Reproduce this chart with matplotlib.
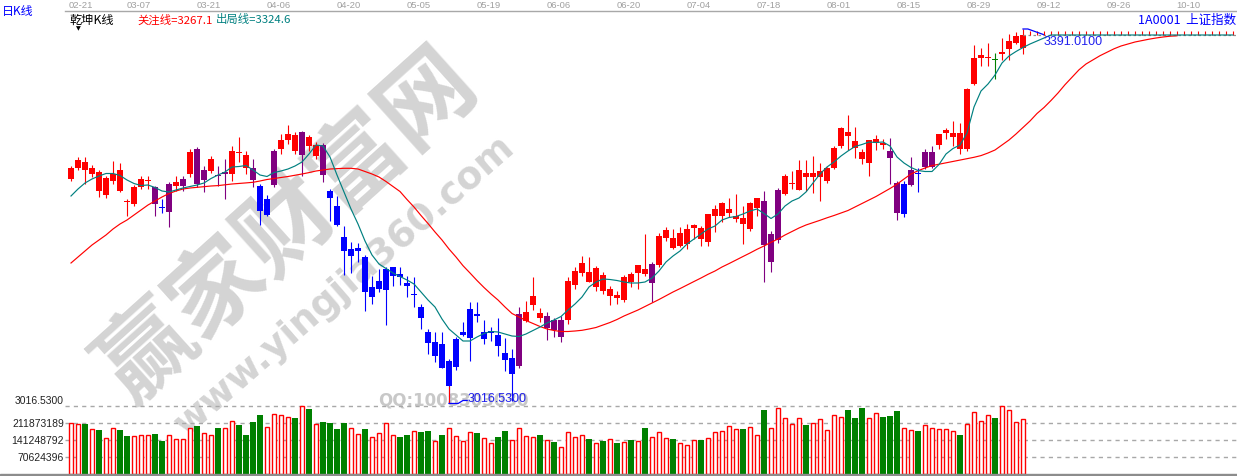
import logging
import matplotlib
matplotlib.use("Agg")
import matplotlib.pyplot as plt
import matplotlib.transforms as mtransforms
from matplotlib.lines import Line2D
from matplotlib.patches import Rectangle
import numpy as np

logging.getLogger("matplotlib.font_manager").setLevel(logging.ERROR)

# ---------------- data ----------------
date_labels = ["02-21", "03-07", "03-21", "04-06", "04-20", "05-05", "05-19", "06-06", "06-20",
               "07-04", "07-18", "08-01", "08-15", "08-29", "09-12", "09-26", "10-10"]

opens = [3241, 3252, 3258, 3246, 3248, 3225, 3239, 3250, 3219, 3216,
         3233, 3239, 3233, 3213, 3208, 3234, 3234, 3246, 3271, 3240,
         3249, 3245, 3246, 3246, 3268, 3265, 3252, 3234, 3205, 3235,
         3271, 3280, 3285, 3265, 3283, 3264, 3275, 3229, 3214, 3183,
         3164, 3169, 3163, 3123, 3131, 3130, 3144, 3146, 3137, 3125,
         3113, 3088, 3064, 3076, 3034, 3053, 3085, 3082, 3106, 3081,
         3087, 3085, 3067, 3046, 3054, 3099, 3115, 3107, 3092, 3100,
         3083, 3100, 3135, 3147, 3148, 3133, 3145, 3124, 3125, 3120,
         3146, 3147, 3151, 3137, 3155, 3182, 3182, 3174, 3176, 3192,
         3192, 3178, 3204, 3204, 3207, 3201, 3202, 3191, 3212, 3219,
         3158, 3180, 3226, 3236, 3230, 3247, 3243, 3243, 3239, 3252,
         3274, 3288, 3279, 3268, 3257, 3277, 3277, 3269, 3237, 3206,
         3235, 3247, 3253, 3253, 3275, 3287, 3283, 3287, 3271, 3336,
         3362, 3362, 3361, 3366, 3371, 3377, 3372]

closes = [3252, 3260, 3250, 3252, 3229, 3242, 3246, 3229, 3218, 3233,
          3241, 3240, 3216, 3212, 3236, 3238, 3241, 3268, 3236, 3250,
          3261, 3244, 3248, 3269, 3267, 3252, 3240, 3209, 3221, 3269,
          3280, 3286, 3269, 3288, 3274, 3275, 3245, 3222, 3195, 3169,
          3171, 3172, 3128, 3133, 3139, 3151, 3153, 3143, 3134, 3126,
          3102, 3077, 3078, 3052, 3059, 3081, 3088, 3111, 3104, 3088,
          3089, 3074, 3060, 3062, 3106, 3108, 3124, 3102, 3104, 3090,
          3100, 3139, 3149, 3157, 3138, 3152, 3129, 3131, 3122, 3143,
          3138, 3155, 3146, 3156, 3184, 3190, 3172, 3187, 3191, 3195,
          3181, 3206, 3211, 3217, 3211, 3204, 3196, 3217, 3222, 3175,
          3186, 3230, 3244, 3237, 3250, 3243, 3247, 3249, 3252, 3272,
          3292, 3284, 3272, 3261, 3280, 3281, 3275, 3262, 3207, 3236,
          3250, 3246, 3268, 3268, 3286, 3290, 3287, 3271, 3331, 3362,
          3365, 3363, 3360, 3368, 3379, 3384, 3385]

highs = [3254, 3263, 3263, 3255, 3250, 3244, 3259, 3257, 3221, 3235,
         3244, 3244, 3234, 3221, 3238, 3244, 3244, 3271, 3273, 3254,
         3264, 3254, 3261, 3274, 3283, 3269, 3261, 3236, 3225, 3271,
         3286, 3295, 3288, 3289, 3285, 3278, 3277, 3231, 3224, 3194,
         3178, 3177, 3165, 3144, 3151, 3153, 3153, 3153, 3144, 3143,
         3116, 3091, 3088, 3088, 3061, 3083, 3098, 3118, 3118, 3100,
         3093, 3102, 3082, 3071, 3113, 3119, 3143, 3112, 3108, 3102,
         3104, 3143, 3153, 3164, 3163, 3154, 3148, 3134, 3129, 3145,
         3148, 3155, 3186, 3158, 3187, 3193, 3191, 3193, 3196, 3196,
         3194, 3206, 3215, 3218, 3222, 3226, 3214, 3218, 3222, 3229,
         3189, 3232, 3246, 3249, 3260, 3260, 3264, 3257, 3253, 3274,
         3293, 3305, 3293, 3271, 3280, 3285, 3281, 3282, 3239, 3239,
         3263, 3252, 3271, 3274, 3286, 3292, 3299, 3297, 3332, 3375,
         3372, 3377, 3367, 3382, 3386, 3388, 3391.01]

lows = [3239, 3250, 3236, 3243, 3223, 3222, 3236, 3228, 3204, 3214,
        3231, 3231, 3204, 3207, 3193, 3229, 3229, 3243, 3233, 3228,
        3247, 3234, 3221, 3239, 3258, 3246, 3233, 3195, 3204, 3233,
        3266, 3276, 3266, 3244, 3269, 3261, 3238, 3199, 3194, 3145,
        3147, 3158, 3109, 3116, 3128, 3095, 3134, 3135, 3123, 3113,
        3091, 3066, 3058, 3052, 3016.53, 3050, 3084, 3059, 3098, 3076,
        3079, 3064, 3049, 3019, 3052, 3098, 3110, 3098, 3080, 3083,
        3078, 3096, 3131, 3144, 3138, 3129, 3126, 3115, 3116, 3118,
        3133, 3131, 3144, 3118, 3153, 3179, 3171, 3173, 3171, 3181,
        3174, 3174, 3188, 3198, 3203, 3198, 3176, 3189, 3204, 3138,
        3148, 3177, 3225, 3231, 3230, 3229, 3227, 3219, 3237, 3251,
        3272, 3270, 3262, 3256, 3244, 3270, 3271, 3236, 3200, 3203,
        3234, 3228, 3251, 3252, 3271, 3281, 3274, 3266, 3269, 3335,
        3354, 3354, 3341, 3360, 3360, 3376, 3366]

# 乾坤K线 colour state per candle: R red, B blue, P purple, G green
kline_state = ("RRRRRRRRRRRR"
               "PBPRPRPPRPPRRRPBBPRRRPRRP"
               "BBBBBBBBBBBBBBBBBBBBBBBBBBB"
               "PRRRPPP"
               "RRRRRRRRRRRR"
               "P"
               "RRRRRRRRRRRRRRR"
               "PPP"
               "RRRRRRRRRRRRRRR"
               "PPBPBPP"
               "RRRRRRRR"
               "G"
               "RRRR")

# volume in millions of shares
volume_m = [211.9, 207.7, 209.0, 187.0, 182.8, 148.3, 189.9, 182.8, 157.9, 156.6,
            160.8, 160.8, 166.2, 137.1, 160.8, 144.2, 144.2, 189.9, 199.4, 169.1,
            160.8, 191.1, 189.9, 218.9, 203.6, 162.0, 216.0, 245.1, 194.0, 249.3,
            245.1, 236.8, 232.6, 281.2, 270.0, 207.7, 216.0, 211.9, 187.0, 211.9,
            189.9, 166.2, 187.0, 152.5, 170.3, 210.6, 160.8, 152.5, 162.0, 177.4,
            175.7, 178.6, 137.1, 162.0, 189.9, 156.6, 137.1, 173.2, 170.3, 148.3,
            127.5, 153.7, 178.6, 140.0, 189.9, 156.6, 153.7, 162.0, 140.0, 132.9,
            110.9, 173.2, 152.5, 160.8, 145.4, 127.5, 137.1, 144.2, 128.8, 131.7,
            141.2, 135.8, 191.1, 152.5, 173.2, 148.3, 145.4, 127.5, 119.2, 140.0,
            141.2, 148.3, 173.2, 177.4, 198.2, 185.7, 187.0, 194.0, 160.8, 265.9,
            189.9, 272.9, 231.4, 206.5, 231.4, 203.6, 210.6, 227.2, 181.5, 243.9,
            235.5, 265.9, 232.6, 274.2, 231.4, 252.2, 236.8, 241.0, 261.7, 189.9,
            181.5, 178.6, 202.3, 189.9, 185.7, 185.7, 177.4, 162.0, 206.5, 256.3,
            218.9, 243.9, 232.6, 281.2, 264.6, 214.8, 227.2]

# 关注线 (red)
focus_line = [3157, 3163, 3169, 3175, 3180, 3185, 3191, 3196, 3200, 3205,
              3210, 3215, 3219, 3223, 3226.5, 3229, 3231, 3232, 3232.7, 3233.3,
              3234, 3234.4, 3235.2, 3236, 3236.5, 3237.1, 3237.7, 3239, 3240.5, 3241.5,
              3242.4, 3243.5, 3244.7, 3246, 3247.4, 3249, 3250, 3251, 3251.4, 3251.7,
              3251.7, 3251, 3248.5, 3246, 3243, 3238.5, 3233.5, 3228.5, 3220.5, 3213,
              3204.5, 3196.5, 3188, 3180, 3171, 3163, 3154.3, 3147, 3139.5, 3132.5,
              3126, 3120, 3113, 3106.5, 3103, 3099.5, 3096.5, 3093.5, 3091, 3089.5,
              3088.5, 3088.5, 3089, 3089.7, 3091, 3092.5, 3095, 3097.5, 3100.5, 3104,
              3107, 3110, 3113.5, 3117, 3120.5, 3124.2, 3128, 3131.4, 3135, 3138.5,
              3142, 3145.7, 3149, 3153, 3156.4, 3160, 3163.5, 3167, 3170.7, 3174,
              3177.7, 3181, 3185, 3188.5, 3192, 3195, 3197.3, 3199.7, 3202.2, 3204.5,
              3207, 3209.5, 3213, 3216.5, 3220, 3223.5, 3227.5, 3231.5, 3235.8, 3241,
              3246, 3249.2, 3252, 3254.4, 3255.8, 3257.2, 3258.7, 3260, 3261.5, 3262.7,
              3264.4, 3267, 3270, 3275, 3280, 3286, 3292.5, 3299, 3306.5, 3312.5,
              3319.5, 3327, 3335.3, 3342.7, 3350.2, 3356, 3360.2, 3364.3, 3367.7, 3371.2,
              3374, 3376, 3378, 3379.4, 3380.8, 3382, 3383, 3383.8, 3384.2]

# 出局线 (teal)
exit_line = [3224, 3231, 3237, 3241, 3244, 3246.5, 3246.5, 3244.5, 3240, 3236.5,
             3234.5, 3235, 3232.5, 3229, 3228, 3230, 3232, 3233.5, 3235, 3237,
             3241.5, 3245, 3248, 3253, 3253.5, 3254.5, 3250, 3245, 3243.5, 3247.5,
             3249, 3251, 3254, 3258, 3266, 3275, 3274, 3263, 3245, 3228,
             3211, 3196, 3179, 3165, 3156, 3151.5, 3147, 3143.5, 3140, 3136,
             3128, 3120, 3113, 3101, 3091, 3085, 3079, 3079, 3083, 3086.5,
             3088.5, 3088, 3086, 3084, 3083.5, 3086, 3089.5, 3093, 3097, 3100,
             3103.5, 3110, 3116, 3123, 3133, 3138, 3141, 3140.5, 3139.5, 3138,
             3137, 3137, 3138, 3142, 3149, 3158, 3164, 3169, 3176, 3181,
             3186, 3191, 3194, 3200, 3202.5, 3203.5, 3206, 3209, 3211, 3206.5,
             3201.5, 3206, 3214, 3219, 3222, 3228, 3237, 3246, 3253, 3258,
             3264, 3269, 3273.5, 3275.5, 3278, 3277.5, 3278, 3274, 3263, 3257,
             3252.5, 3249.5, 3248.5, 3248.5, 3255.5, 3266, 3271.5, 3275, 3287, 3313,
             3329, 3336, 3345, 3357, 3364, 3368.5, 3372.5, 3376, 3379, 3382,
             3385, 3385, 3385, 3385, 3385, 3385, 3385, 3385, 3385, 3385,
             3385, 3385, 3385, 3385, 3385, 3385, 3385, 3385, 3385, 3385,
             3385, 3385, 3385, 3385, 3385, 3385, 3385]

vol_axis_labels = ["3016.5300", "211873189", "141248792", "70624396"]
vol_step = 70624396

header_left = "日K线"
header_name = "乾坤K线"
focus_text = "关注线=3267.1"
exit_text = "出局线=3324.6"
header_right = "1A0001  上证指数"

# ---------------- layout ----------------
W, H = 1237, 477
fig = plt.figure(figsize=(W / 100, H / 100), dpi=100, facecolor="white")

def fx(px):
    return px / W

def fy(py):
    return 1 - py / H

LEFT, RIGHT = 65, 1237
P_TOP, P_BOT = 12, 410
V_TOP, V_BOT = 398, 477
X0, PITCH = 71, 7.0
XLIM = ((LEFT - X0) / PITCH, (RIGHT - X0) / PITCH)

CJK = ["Noto Sans CJK SC", "DejaVu Sans"]
NUM = ["Liberation Sans", "DejaVu Sans"]
NARROW = ["Liberation Sans Narrow", "Liberation Sans", "DejaVu Sans"]

RED, BLUE, PURPLE, GREEN, TEAL = "#ff0000", "#0000ff", "#800080", "#008000", "#008080"
state_color = {"R": RED, "B": BLUE, "P": PURPLE, "G": GREEN}

ax = fig.add_axes([fx(LEFT), fy(P_BOT), fx(RIGHT - LEFT), (P_BOT - P_TOP) / H])
ax.set_xlim(*XLIM)
ax.set_ylim(3011, 3409)
ax.axis("off")
ax.patch.set_alpha(0)

axv = fig.add_axes([fx(LEFT), fy(V_BOT), fx(RIGHT - LEFT), (V_BOT - V_TOP) / H])
unit = vol_step / 17.0
axv.set_xlim(*XLIM)
axv.set_ylim(-2 * unit, 77 * unit)
axv.axis("off")
axv.patch.set_alpha(0)

o = np.array(opens, float)
c = np.array(closes, float)
hi = np.array(highs, float)
lo = np.array(lows, float)
n = len(o)
x = np.arange(n)
cols = [state_color[s] for s in kline_state]

# watermark (behind everything)
fig.text(fx(288), fy(226), "赢家财富网", rotation=42, fontsize=68, color="#d4d4d4",
         fontweight="bold", family=CJK, ha="center", va="center", zorder=-1)
fig.text(fx(345), fy(286), "www.yingjia360.com", rotation=41, fontsize=27, color="#d4d4d4",
         fontweight="bold", family=["DejaVu Sans"], ha="center", va="center", zorder=-1)
fig.text(fx(378), fy(401), "QQ:1008303030", fontsize=12, color="#c8c8c8",
         fontweight="bold", family=["DejaVu Sans"], ha="left", va="center", zorder=-1)

# candles
ax.vlines(x, lo, hi, colors=cols, lw=0.8, zorder=3)
body_bot = np.minimum(o, c)
body_h = np.maximum(np.abs(c - o), 1.3)
ax.bar(x, body_h, bottom=body_bot, width=0.95, color=cols, linewidth=0, zorder=4)

# indicator lines
ax.plot(np.arange(len(focus_line)), focus_line, color=RED, lw=0.85, zorder=5)
ax.plot(np.arange(len(exit_line)), exit_line, color=TEAL, lw=0.85, zorder=5)

# last close projection (dotted)
last = n - 1
ax.plot([last, XLIM[1]], [c[last], c[last]], color="#909090", lw=0.9, ls=(0, (2, 2)), zorder=4)
tick_x = np.arange(last + 1, int(XLIM[1]) + 1)
ax.plot(tick_x, np.full(len(tick_x), c[last] + 2.0), ls="none", marker="|", ms=2.2,
        mew=0.8, color=RED, zorder=4)

# low marker
imin = int(np.argmin(lo))
ax.vlines(imin, lo[imin], body_bot[imin], colors=RED, lw=0.8, zorder=6)
ax.plot([imin, imin + 1.3, imin + 2.0, imin + 2.6], [lo[imin], lo[imin], lo[imin] + 3, lo[imin] + 3],
        color=BLUE, lw=0.9, zorder=6)
ax.text(imin + 2.6, lo[imin] + 5, f"{lo[imin]:.4f}", color="#2020ee", fontsize=9, family=NUM,
        ha="left", va="center", zorder=7, clip_on=False)

# high marker
imax = int(np.argmax(hi))
ax.plot([imax, imax + 0.7, imax + 2.9], [hi[imax], hi[imax], hi[imax] - 5.5], color=BLUE, lw=0.9, zorder=6)
ax.text(imax + 2.9, hi[imax] - 12, f"{hi[imax]:.4f}", color="#2020ee", fontsize=9, family=NUM,
        ha="left", va="center", zorder=7)

# volume
v = np.array(volume_m) * 1e6
up = c >= o
for k in range(1, 5):
    axv.axhline(k * vol_step, color="#a8a8a8", lw=1.0, ls=(0, (3, 3)), zorder=0.5)
axv.bar(x[up], v[up], width=0.62, facecolor="white", edgecolor=RED, linewidth=1.0, zorder=2)
axv.bar(x[~up], v[~up], width=0.72, color=GREEN, linewidth=0, zorder=2)

yt = axv.get_yaxis_transform()
label_levels = [4, 3, 2, 1]
for lab, k in zip(vol_axis_labels, label_levels):
    shift = 6 * unit if k == 4 else 0
    axv.text(-0.001, k * vol_step + shift, lab, transform=yt, ha="right", va="center",
             fontsize=7.5, family=NUM, color="#222222", clip_on=False)

# bottom bar and top rule
fig.add_artist(Rectangle((0, 0), 1, 2.2 / H, transform=fig.transFigure, color="#8c8c8c", zorder=10))
fig.add_artist(Line2D([fx(LEFT), 1], [fy(12), fy(12)], transform=fig.transFigure,
                      color="#a8a8a8", lw=1.0, zorder=10))

# date labels
bt = mtransforms.blended_transform_factory(ax.transData, fig.transFigure)
for k, d in enumerate(date_labels):
    xi = k * 10
    if k == 0:
        ax.text(xi - 0.3, fy(6), d, transform=bt, ha="left", va="center", fontsize=6.8,
                family=NARROW, color="#a0a0a0", clip_on=False)
    else:
        ax.text(xi - 0.35, fy(6), d, transform=bt, ha="center", va="center", fontsize=6.8,
                family=NARROW, color="#a0a0a0", clip_on=False)

# header texts
fig.text(fx(2), fy(12), header_left, color=BLUE, fontsize=8.6, family=CJK, ha="left", va="center")
fig.text(fx(69), fy(20), header_name, color="black", fontsize=8.8, family=CJK, ha="left", va="center")
fig.text(fx(78.5), fy(28.5), "▼", color="black", fontsize=4.5, family=["DejaVu Sans"], ha="center", va="center")
fig.text(fx(137), fy(20), focus_text, color=RED, fontsize=8.2, family=CJK, ha="left", va="center")
fig.text(fx(216), fy(20), exit_text, color=TEAL, fontsize=8.2, family=CJK, ha="left", va="center")
fig.text(fx(1236), fy(20), header_right, color=BLUE, fontsize=9, family=CJK, ha="right", va="center")

fig.savefig("out.png", dpi=100, facecolor="white")
